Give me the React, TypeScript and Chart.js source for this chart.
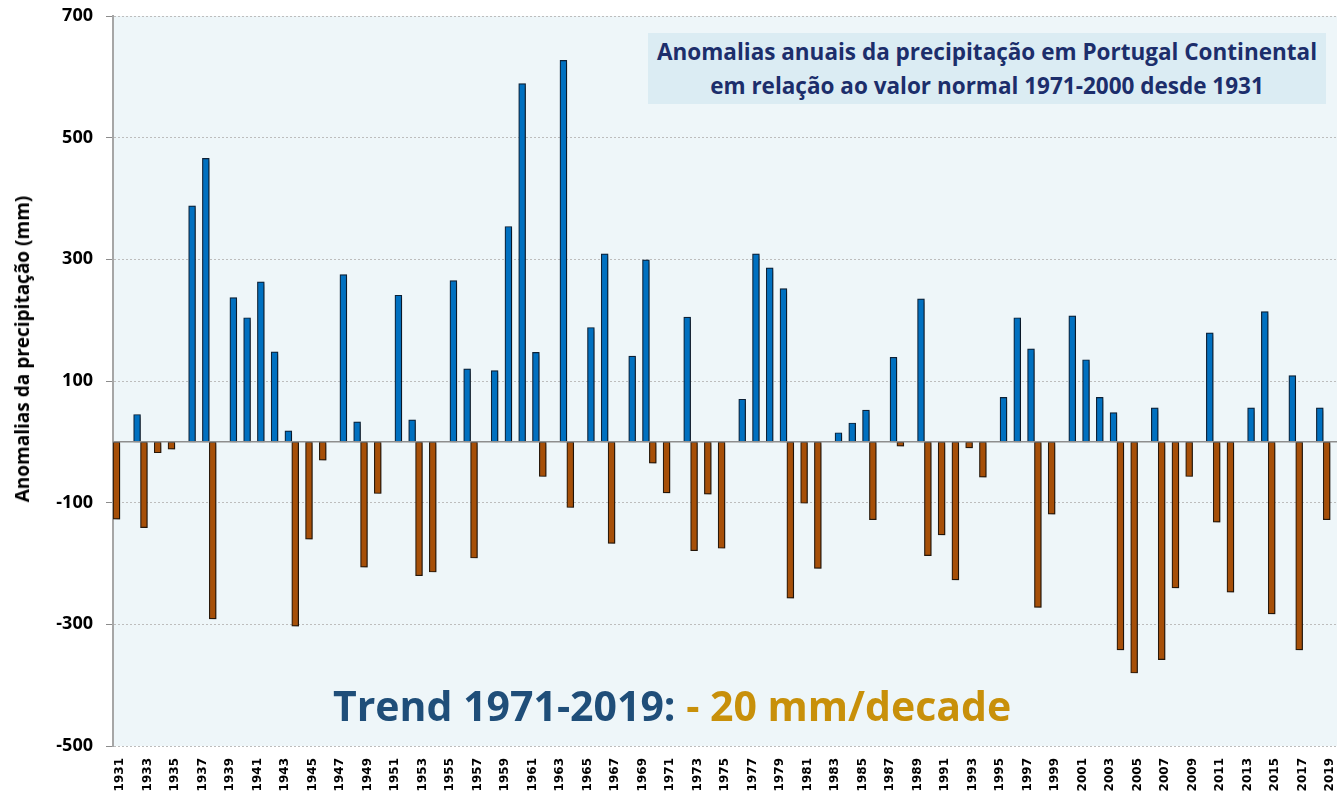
import React, { useEffect, useRef } from 'react';
import { Chart, registerables } from 'chart.js';

Chart.register(...registerables);

const years = [
  '1931','1932','1933','1934','1935','1936','1937','1938','1939','1940',
  '1941','1942','1943','1944','1945','1946','1947','1948','1949','1950',
  '1951','1952','1953','1954','1955','1956','1957','1958','1959','1960',
  '1961','1962','1963','1964','1965','1966','1967','1968','1969','1970',
  '1971','1972','1973','1974','1975','1976','1977','1978','1979','1980',
  '1981','1982','1983','1984','1985','1986','1987','1988','1989','1990',
  '1991','1992','1993','1994','1995','1996','1997','1998','1999','2000',
  '2001','2002','2003','2004','2005','2006','2007','2008','2009','2010',
  '2011','2012','2013','2014','2015','2016','2017','2018','2019',
];

// Annual precipitation anomalies (mm) relative to the 1971-2000 normal
const anomalies = [
  -127, 45, -141, -18, -12, 388, 466, -291, 237, 204,
  263, 148, 18, -303, -160, -30, 275, 33, -206, -85,
  241, 36, -220, -214, 265, 120, -191, 117, 354, 589,
  147, -57, 627, -108, 188, 309, -167, 141, 299, -35,
  -84, 205, -179, -86, -175, 70, 309, 286, 252, -257,
  -101, -208, 15, 31, 52, -128, 139, -7, 235, -187,
  -153, -227, -10, -58, 73, 204, 153, -272, -119, 207,
  135, 73, 48, -342, -380, 56, -358, -240, -57, 179,
  -132, -247, 56, 214, -283, 109, -342, 56, -128,
];

const yTicks = [-500, -300, -100, 100, 300, 500, 700];

const titleLines = [
  'Anomalias anuais da precipitação em Portugal Continental',
  'em relação ao valor normal 1971-2000 desde 1931',
];
const yAxisTitle = 'Anomalias da precipitação (mm)';
const trendLabel = 'Trend 1971-2019: ';
const trendValue = '- 20 mm/decade';

const negativeValues = anomalies.map((v) => (v < 0 ? v : null));
const positiveValues = anomalies.map((v) => (v >= 0 ? v : null));

const backgroundPlugin = {
  id: 'plotBackground',
  beforeDraw(chart: any) {
    const { ctx, chartArea } = chart;
    ctx.save();
    ctx.fillStyle = '#EEF6F9';
    ctx.fillRect(chartArea.left, chartArea.top, chartArea.right - chartArea.left, chartArea.bottom - chartArea.top);
    ctx.restore();
  },
};

const shadowPlugin = {
  id: 'barShadow',
  beforeDatasetsDraw(chart: any) {
    const ctx = chart.ctx;
    ctx.save();
    ctx.shadowColor = 'rgba(0,0,0,0.38)';
    ctx.shadowBlur = 4;
    ctx.shadowOffsetX = 3;
    ctx.shadowOffsetY = 2;
  },
  afterDatasetsDraw(chart: any) {
    const ctx = chart.ctx;
    ctx.restore();
    const y = chart.scales.y.getPixelForValue(0);
    ctx.save();
    ctx.strokeStyle = '#8E8E8E';
    ctx.lineWidth = 1.5;
    ctx.beginPath();
    ctx.moveTo(chart.chartArea.left, y);
    ctx.lineTo(chart.chartArea.right, y);
    ctx.stroke();
    ctx.restore();
  },
};

export default function App() {
  const canvasRef = useRef<HTMLCanvasElement | null>(null);

  useEffect(() => {
    if (!canvasRef.current) return;
    const chart = new Chart(canvasRef.current, {
      type: 'bar',
      data: {
        labels: years,
        datasets: [
          {
            label: 'Negative',
            data: negativeValues as any,
            backgroundColor: '#A64F08',
            borderColor: '#2A1A0C',
            borderWidth: 1.2,
            borderSkipped: false,
            categoryPercentage: 1,
            barPercentage: 1,
          },
          {
            label: 'Positive',
            data: positiveValues as any,
            backgroundColor: '#0070C0',
            borderColor: '#0E2238',
            borderWidth: 1.2,
            borderSkipped: false,
            categoryPercentage: 1,
            barPercentage: 1,
          },
        ],
      },
      options: {
        animation: false,
        responsive: true,
        maintainAspectRatio: false,
        layout: { padding: { top: 16, left: 0, right: 0, bottom: 0 } },
        plugins: {
          legend: { display: false },
          tooltip: { enabled: false },
          title: { display: false },
        },
        scales: {
          x: {
            grid: { display: false, drawTicks: false },
            border: { display: false },
            ticks: {
              autoSkip: false,
              minRotation: 90,
              maxRotation: 90,
              padding: 12,
              color: '#000000',
              font: { family: 'DejaVu Sans', size: 12, weight: 'bold' },
              callback: (_v: any, i: number) => (i % 2 === 0 ? years[i] : ''),
            },
            afterFit: (s: any) => {
              s.height = 51;
              s.paddingLeft = 0;
              s.paddingRight = 0;
            },
          },
          y: {
            min: -500,
            max: 700,
            ticks: {
              stepSize: 200,
              padding: 13,
              color: '#000000',
              font: { family: 'Open Sans', size: 18, weight: 'bold' },
            },
            afterBuildTicks: (s: any) => {
              s.ticks = yTicks.map((v) => ({ value: v }));
            },
            grid: {
              color: '#BDBDBD',
              lineWidth: 1,
              drawTicks: true,
              tickLength: 7,
              tickColor: '#8C8C8C',
              tickBorderDash: [],
            },
            border: { display: true, color: '#A6A6A6', width: 2, dash: [2, 2] },
            afterFit: (s: any) => {
              s.width = 113;
              s.paddingTop = 0;
              s.paddingBottom = 0;
            },
          },
        },
      } as any,
      plugins: [backgroundPlugin, shadowPlugin],
    });
    return () => chart.destroy();
  }, []);

  return (
    <div style={{ position: 'absolute', left: 0, top: 0, width: 1337, height: 797, background: '#FFFFFF' }}>
      <canvas ref={canvasRef} />
      <div
        style={{
          position: 'absolute',
          left: 648,
          top: 33,
          width: 678,
          height: 71,
          background: '#DBECF3',
          color: '#1C2E6B',
          fontFamily: '"Open Sans", sans-serif',
          fontWeight: 700,
          fontSize: 22.5,
          lineHeight: '34px',
          textAlign: 'center',
          whiteSpace: 'nowrap',
          display: 'flex',
          flexDirection: 'column',
          justifyContent: 'center',
          alignItems: 'center',
        }}
      >
        <div>{titleLines[0]}</div>
        <div>{titleLines[1]}</div>
      </div>
      <div
        style={{
          position: 'absolute',
          left: 22,
          top: 349,
          transform: 'translate(-50%, -50%) rotate(-90deg)',
          fontFamily: '"Open Sans", sans-serif',
          fontWeight: 700,
          fontSize: 19,
          whiteSpace: 'nowrap',
          color: '#000000',
        }}
      >
        {yAxisTitle}
      </div>
      <div
        style={{
          position: 'absolute',
          left: 333,
          top: 677,
          fontFamily: '"Open Sans", sans-serif',
          fontWeight: 700,
          fontSize: 41,
          lineHeight: '56px',
          whiteSpace: 'nowrap',
        }}
      >
        <span style={{ color: '#1F4E79' }}>{trendLabel}</span>
        <span style={{ color: '#C8900A' }}>{trendValue}</span>
      </div>
    </div>
  );
}
